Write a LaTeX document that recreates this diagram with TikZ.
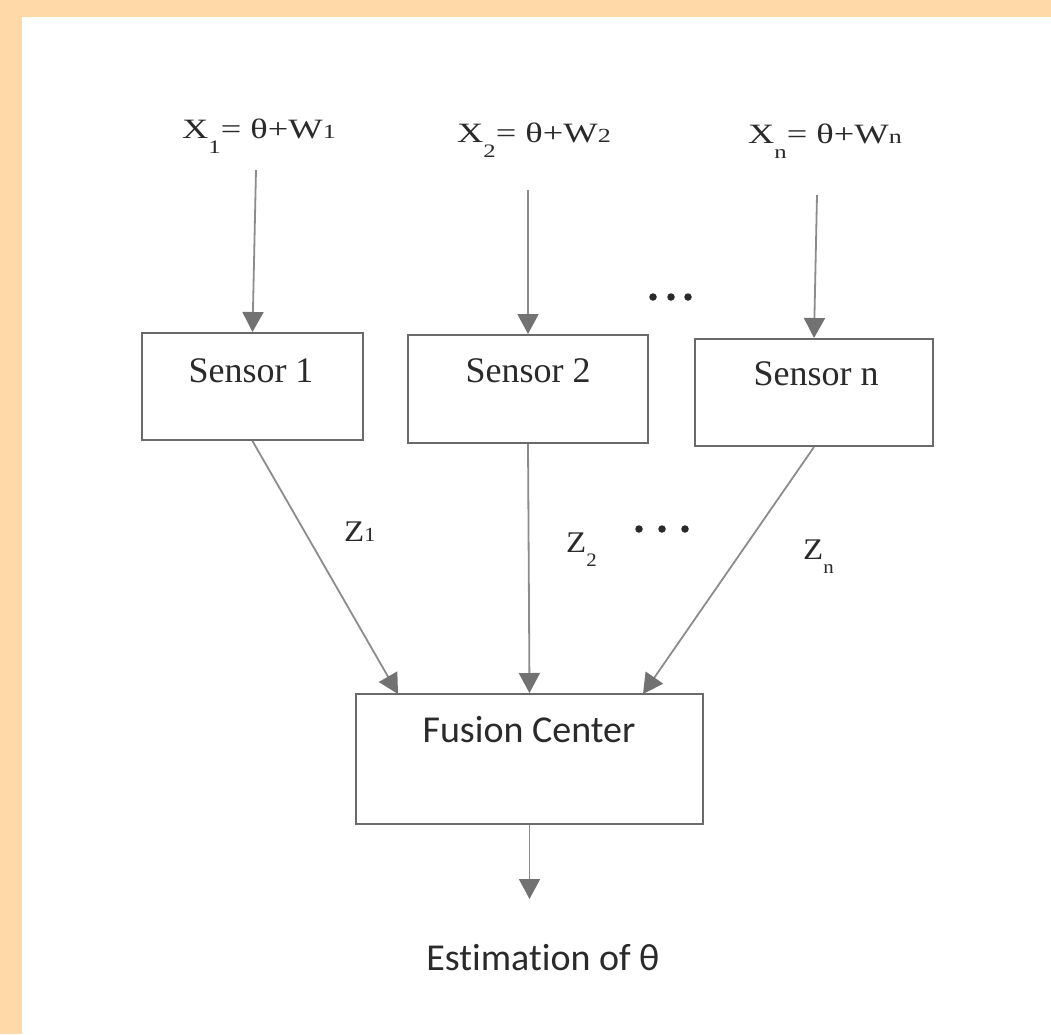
\documentclass[tikz,border=0pt]{standalone}
\usepackage{fontspec}
\setmainfont{Liberation Serif}
\newfontfamily\timesf{Liberation Serif}
\newfontfamily\calib[Ligatures=NoCommon]{Carlito}
\usetikzlibrary{arrows.meta}
\definecolor{peach}{HTML}{FFDAA8}
\definecolor{linegray}{HTML}{8C8C8C}
\definecolor{tipgray}{HTML}{727272}
\definecolor{boxgray}{HTML}{6A6A6A}
\definecolor{txt}{HTML}{2A2A2A}
\newcommand\lowsub[1]{\raisebox{-15pt}{\fontsize{19}{19}\selectfont #1}}
\newcommand\basesmall[1]{{\fontsize{20}{20}\selectfont #1}}
\newcommand\zsub[1]{\raisebox{-14pt}{\fontsize{19}{19}\selectfont #1}}
\begin{document}
\begin{tikzpicture}[x=1pt,y=-1pt,
  conn/.style={draw=linegray, line width=1.8pt, -{Triangle[width=21pt,length=20pt,color=tipgray]}},
  sbox/.style={draw=boxgray, line width=2pt, fill=white, rectangle, inner sep=0pt},
  sertext/.style={text=txt, font=\timesf\fontsize{36}{40}\selectfont, inner sep=0pt, anchor=base},
  sanstext/.style={text=txt, font=\calib\fontsize{38}{42}\selectfont, inner sep=0pt, anchor=base},
  xlabel/.style={text=txt, font=\timesf\fontsize{28}{32}\selectfont, inner sep=0pt, anchor=base west},
  zlabel/.style={text=txt, font=\timesf\fontsize{30}{34}\selectfont, inner sep=0pt, anchor=base west},
  dot/.style={circle, fill=txt, inner sep=0pt, minimum size=7.5pt}]
% background
\fill[peach] (0,0) rectangle (1051,1034);
\fill[white] (22,17) rectangle (1051,1034);
\useasboundingbox (0,0) rectangle (1051,1034);

% sensor boxes
\node[sbox, minimum width=221pt, minimum height=107pt] (s1) at (252.5,386.5) {};
\node[sbox, minimum width=240pt, minimum height=108pt] (s2) at (528,389) {};
\node[sbox, minimum width=238pt, minimum height=107pt] (sn) at (814,392.5) {};
\node[sbox, minimum width=347pt, minimum height=130pt] (fc) at (529.5,759) {};

\node[sertext] (s1t) at (251,382) {Sensor 1};
\node[sertext] (s2t) at (528,382) {Sensor 2};
\node[sertext] (snt) at (816,385) {Sensor n};
\node[sanstext] (fct) at (529,742) {Fusion Center};
\node[sanstext] (est) at (543,970) {Estimation of θ};

% input labels
\node[xlabel] (x1) at (182,138) {\scalebox{1.3}[1]{X\lowsub{1}= θ+W\basesmall{1}}};
\node[xlabel] (x2) at (457,142) {\scalebox{1.3}[1]{X\lowsub{2}= θ+W\basesmall{2}}};
\node[xlabel] (xn) at (748,143) {\scalebox{1.3}[1]{X\lowsub{n}= θ+W\basesmall{n}}};

% output labels
\node[zlabel] (z1) at (344,541) {\scalebox{1.1}[1]{Z\basesmall{1}}};
\node[zlabel] (z2) at (566,552) {\scalebox{1.1}[1]{Z\zsub{2}}};
\node[zlabel] (zn) at (803,559) {\scalebox{1.1}[1]{Z\zsub{n}}};

% dots
\node[dot] (d1) at (653,297) {};
\node[dot] (d2) at (671,297) {};
\node[dot] (d3) at (688,297) {};
\node[dot] (d4) at (639,529) {};
\node[dot] (d5) at (662,529) {};
\node[dot] (d6) at (685,529) {};

% connector end points
\coordinate (in1) at (256,170);
\coordinate (in2) at (528,190);
\coordinate (inn) at (817,195);
\coordinate (f1) at (398,694);
\coordinate (fn) at (643,694);
\coordinate (out) at (529.5,899);

\draw[conn] (in1) -- (s1.north);
\draw[conn] (in2) -- (s2.north);
\draw[conn] (inn) -- (sn.north);
\draw[conn] (s1.south) -- (f1);
\draw[conn] (s2.south) -- (fc.north);
\draw[conn] (sn.south) -- (fn);
\draw[conn] (fc.south) -- (out);
\end{tikzpicture}
\end{document}
